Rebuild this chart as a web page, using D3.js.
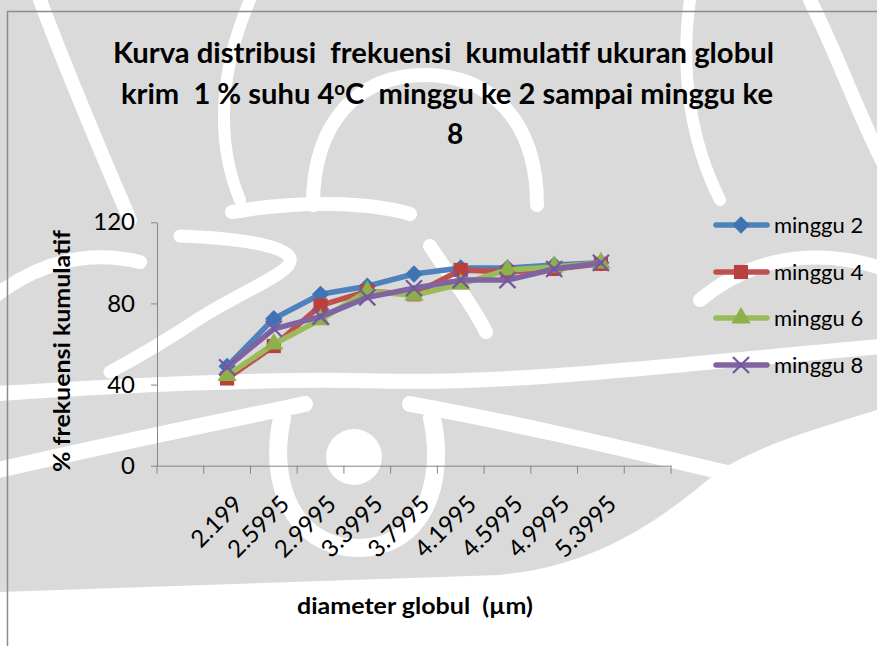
<!DOCTYPE html>
<html>
<head>
<meta charset="utf-8">
<script src="https://cdn.jsdelivr.net/npm/d3@7"></script>
<style>
  html, body { margin: 0; padding: 0; background: #fff; }
  svg { display: block; }
  text { white-space: pre; }
</style>
</head>
<body>
<svg id="chart" width="877" height="646"></svg>
<script>
// Category labels (diameter globul, µm); the first and last slots are empty
const categories = ["", "2.199", "2.5995", "2.9995", "3.3995", "3.7995", "4.1995", "4.5995", "4.9995", "5.3995", ""];

// Cumulative frequency (%) per storage week
const seriesNames = ["minggu 2", "minggu 4", "minggu 6", "minggu 8"];
const minggu2 = [null, 49, 72.5, 84.5, 88.5, 94.5, 97.5, 97.5, 99, 100, null];
const minggu4 = [null, 43, 59, 79, 86, 84.5, 96.5, 95.5, 97, 99.5, null];
const minggu6 = [null, 44.5, 60, 72, 86, 84, 89.5, 96.5, 98, 100, null];
const minggu8 = [null, 48.5, 67.5, 73.5, 83, 87.5, 91.5, 91.5, 97, 100, null];

const yTicks = [0, 40, 80, 120];

const xTitle = "diameter globul  (\u00B5m)";
const yTitle = "% frekuensi kumulatif";

const series = [
  { name: seriesNames[0], values: minggu2, color: "#4F81BD", marker: "diamond",  fill: "#3F73B3" },
  { name: seriesNames[1], values: minggu4, color: "#C0504D", marker: "square",   fill: "#B9403D" },
  { name: seriesNames[2], values: minggu6, color: "#9BBB59", marker: "triangle", fill: "#8DB04A" },
  { name: seriesNames[3], values: minggu8, color: "#8064A2", marker: "x",        fill: "#7358A0" }
];

const svg = d3.select("#chart");
const FONT = "Lato, 'Open Sans', 'DejaVu Sans', sans-serif";

// ---- background watermark: pale grey emblem with white swirls ----
const wm = svg.append("g").attr("class", "watermark");
wm.append("path")
  .attr("d", "M0,0 H877 V410 C830,425 770,440 720,470 C660,520 600,565 500,575 L0,592 Z")
  .attr("fill", "#dadada");
const wmStrokes = [
  { d: "M-10,394 C120,386 250,378 380,381 C520,384 660,366 887,346", w: 15 },
  { d: "M-10,472 C100,446 200,426 305,404", w: 16 },
  { d: "M410,404 C520,424 620,448 740,476", w: 16 },
  { d: "M282,418 C268,482 292,546 357,548 C424,548 446,482 432,418", w: 18 },
  { d: "M180,236 C232,238 284,244 290,258 C294,272 252,286 200,318 C170,338 140,356 110,372", w: 13 },
  { d: "M232,212 C300,200 370,202 410,214", w: 14 },
  { d: "M430,246 C452,280 470,300 486,332", w: 14 },
  { d: "M313,205 C313,120 360,75 425,75 C490,75 537,120 537,205", w: 14 },
  { d: "M40,0 C70,80 100,150 130,220", w: 14 },
  { d: "M810,0 C840,60 860,120 887,170", w: 14 },
  { d: "M690,0 C680,70 690,140 720,200", w: 12 },
  { d: "M250,0 C220,70 215,140 240,200", w: 12 },
  { d: "M700,300 C760,250 830,250 887,270", w: 14 },
  { d: "M-10,300 C40,260 90,250 140,262", w: 14 }
];
wm.selectAll("path.swirl").data(wmStrokes).join("path")
  .attr("class", "swirl").attr("d", d => d.d)
  .attr("fill", "none").attr("stroke", "#fff").attr("stroke-width", d => d.w).attr("stroke-linecap", "round");
wm.append("circle").attr("cx", 354).attr("cy", 457).attr("r", 28).attr("fill", "#fff");

// ---- chart frame (top and left edges are visible) ----
svg.append("path").attr("d", "M7.5,646 V11.5 H877")
  .attr("fill", "none").attr("stroke", "#8c8c8c").attr("stroke-width", 1.5);

// ---- scales ----
const x = d3.scaleBand().domain(d3.range(categories.length)).range([157, 671]).padding(0);
const y = d3.scaleLinear().domain([0, 120]).range([465.7, 222.3]);

// ---- title ----
const titleG = svg.append("g").attr("font-family", FONT).attr("font-weight", 700).attr("fill", "#000").attr("font-size", 28);
titleG.append("text").attr("x", 113).attr("y", 63)
  .attr("textLength", 661).attr("lengthAdjust", "spacingAndGlyphs")
  .text("Kurva distribusi  frekuensi  kumulatif ukuran globul");
const t2 = titleG.append("text").attr("x", 121).attr("y", 104)
  .attr("textLength", 652).attr("lengthAdjust", "spacingAndGlyphs");
t2.append("tspan").text("krim  1 % suhu 4");
t2.append("tspan").attr("font-size", 18).attr("dy", -9).text("o");
t2.append("tspan").attr("dy", 9).text("C  minggu ke 2 sampai minggu ke");
titleG.append("text").attr("x", 447).attr("y", 144).text("8");

// ---- y axis ----
const yAxis = svg.append("g").attr("transform", `translate(${x.range()[0]},0)`)
  .call(d3.axisLeft(y).tickValues(yTicks).tickSize(6).tickSizeOuter(0).tickPadding(16));
yAxis.select(".domain").attr("stroke", "#868686");
yAxis.selectAll(".tick line").attr("stroke", "#868686");
yAxis.selectAll(".tick text").attr("font-family", FONT).attr("font-size", 24).attr("fill", "#000");

// ---- x axis ----
const xAxis = svg.append("g").attr("transform", `translate(0,${y(0)})`)
  .call(d3.axisBottom(x).tickSize(0).tickSizeOuter(0).tickFormat(i => categories[i]));
xAxis.select(".domain").attr("stroke", "#868686");
xAxis.selectAll(".tick text")
  .attr("font-family", FONT).attr("font-size", 24).attr("fill", "#000")
  .attr("text-anchor", "end").attr("x", 0).attr("y", 0).attr("dy", 0)
  .attr("transform", "translate(17,40) rotate(-45)");
// tick marks sit on the category boundaries
const boundaries = d3.range(categories.length + 1).map(i => x.range()[0] + i * x.step());
xAxis.selectAll("line.bound").data(boundaries).join("line")
  .attr("class", "bound").attr("x1", d => d).attr("x2", d => d).attr("y1", 0).attr("y2", 8)
  .attr("stroke", "#868686");

// ---- axis titles ----
svg.append("text").attr("x", 297).attr("y", 614)
  .attr("font-family", FONT).attr("font-weight", 700).attr("font-size", 23)
  .attr("textLength", 236).attr("lengthAdjust", "spacingAndGlyphs").text(xTitle);
svg.append("text").attr("transform", "translate(70,472) rotate(-90)")
  .attr("font-family", FONT).attr("font-weight", 700).attr("font-size", 23)
  .attr("textLength", 242).attr("lengthAdjust", "spacingAndGlyphs").text(yTitle);

// ---- markers ----
function drawMarker(g, type, fill) {
  if (type === "diamond") {
    g.append("path").attr("d", d3.symbol(d3.symbolSquare, 150)()).attr("transform", "rotate(45)").attr("fill", fill);
  } else if (type === "square") {
    g.append("path").attr("d", d3.symbol(d3.symbolSquare, 200)()).attr("fill", fill);
  } else if (type === "triangle") {
    g.append("path").attr("d", d3.symbol(d3.symbolTriangle, 160)()).attr("fill", fill);
  } else {
    g.append("path").attr("d", d3.symbol(d3.symbolX, 170)()).attr("fill", "none")
      .attr("stroke", fill).attr("stroke-width", 2.2);
  }
}

// ---- series ----
const line = d3.line().defined(d => d.v != null).x(d => x(d.i) + x.bandwidth() / 2).y(d => y(d.v));
const plot = svg.append("g");
series.forEach(s => {
  const pts = s.values.map((v, i) => ({ i, v }));
  const g = plot.append("g");
  g.append("path").attr("d", line(pts)).attr("fill", "none")
    .attr("stroke", s.color).attr("stroke-width", 5.5).attr("stroke-linejoin", "round").attr("stroke-linecap", "round");
  pts.filter(d => d.v != null).forEach(d => {
    const mg = g.append("g").attr("transform", `translate(${x(d.i) + x.bandwidth() / 2},${y(d.v)})`);
    drawMarker(mg, s.marker, s.fill);
  });
});

// ---- legend ----
const legendRows = [225, 272, 318, 365];
const legend = svg.append("g");
series.forEach((s, k) => {
  const lg = legend.append("g").attr("transform", `translate(0,${legendRows[k]})`);
  lg.append("line").attr("x1", 716).attr("x2", 767).attr("y1", 0).attr("y2", 0)
    .attr("stroke", s.color).attr("stroke-width", 5.5).attr("stroke-linecap", "round");
  drawMarker(lg.append("g").attr("transform", "translate(741,0)"), s.marker, s.fill);
  lg.append("text").attr("x", 774).attr("y", 0).attr("dy", "0.35em")
    .attr("font-family", FONT).attr("font-size", 22).attr("fill", "#000").text(s.name);
});
</script>
</body>
</html>
